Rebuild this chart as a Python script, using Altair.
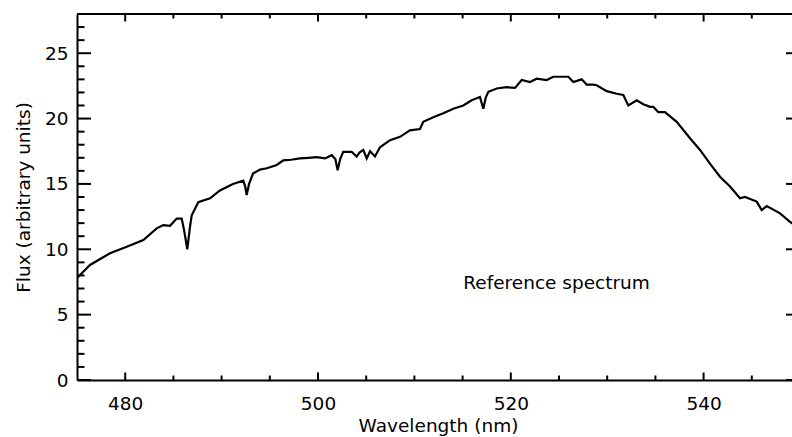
import altair as alt
import pandas as pd

# ---- data ----
wavelength = [475.0, 476.35, 478.42, 480.16, 481.88, 483.27, 483.95, 484.65, 485.34, 485.86,
              486.1, 486.44, 486.7, 486.9, 487.58, 488.8, 489.83, 491.18, 492.25, 492.45,
              492.6, 492.85, 493.26, 493.98, 494.68, 495.72, 496.4, 497.2, 498.13, 499.0,
              499.87, 500.73, 501.42, 501.8, 502.04, 502.3, 502.62, 503.5, 504.01, 504.3,
              504.7, 505.05, 505.4, 505.91, 506.43, 507.47, 508.51, 509.54, 510.58, 510.92,
              511.96, 513.0, 514.04, 515.07, 515.94, 516.8, 517.15, 517.4, 517.67, 518.54,
              519.58, 520.44, 521.13, 521.99, 522.69, 523.72, 524.41, 525.1, 525.97, 526.49,
              527.35, 527.87, 528.56, 528.91, 529.95, 530.99, 531.67, 532.19, 533.06, 533.75,
              534.44, 534.78, 535.3, 535.99, 537.21, 538.59, 539.63, 540.66, 541.7, 542.74,
              543.78, 544.29, 545.51, 546.03, 546.55, 547.93, 548.96, 550.0]
flux = [7.8, 8.8, 9.7, 10.2, 10.7, 11.6, 11.85, 11.8, 12.35, 12.35,
        11.5, 10.0, 11.6, 12.6, 13.6, 13.9, 14.5, 15.0, 15.25, 14.8,
        14.15, 15.0, 15.8, 16.1, 16.2, 16.45, 16.8, 16.85, 16.95, 17.0,
        17.05, 16.95, 17.2, 16.9, 16.05, 16.9, 17.45, 17.45, 17.1, 17.4,
        17.6, 16.95, 17.5, 17.1, 17.8, 18.35, 18.6, 19.1, 19.2, 19.75,
        20.1, 20.4, 20.75, 21.0, 21.4, 21.65, 20.75, 21.6, 22.05, 22.3,
        22.4, 22.35, 22.95, 22.8, 23.05, 22.95, 23.2, 23.2, 23.2, 22.8,
        23.0, 22.6, 22.6, 22.55, 22.1, 21.9, 21.8, 21.0, 21.4, 21.1,
        20.9, 20.9, 20.5, 20.5, 19.75, 18.5, 17.6, 16.55, 15.55, 14.8,
        13.9, 14.0, 13.65, 13.0, 13.3, 12.75, 12.1, 11.6]

x_major = [480, 500, 520, 540]
x_minor = [485, 490, 495, 505, 510, 515, 525, 530, 535, 545]
y_major = [0, 5, 10, 15, 20, 25]
y_minor = [1, 2, 3, 4, 6, 7, 8, 9, 11, 12, 13, 14, 16, 17, 18, 19,
           21, 22, 23, 24, 26, 27]

label_text = ["Reference spectrum"]
label_x = [515.07]
label_y = [7.0]

# ---- layout ----
FONT = "DejaVu Sans"
FS = 18.5
W, H = 715, 366
PXX = 9.64           # pixels per nm
PXY = H / 28.0       # pixels per flux unit
X0, X1 = 475.0, 550.0          # full frame (right edge lies just off-page)
XDOM = [X0, X0 + W / PXX]      # visible part
Y0, Y1 = 0.0, 28.0

# tick segments (IDL-style, pointing inward) built from the tick arrays
xt_maj = 7.5 / PXY
xt_min = 4.5 / PXY
yt_maj = 14 / PXX
yt_min = 7.5 / PXX
rows = []
for v in x_major:
    rows.append({"x": v, "x2": v, "y": Y0, "y2": Y0 + xt_maj})
    rows.append({"x": v, "x2": v, "y": Y1, "y2": Y1 - xt_maj})
for v in x_minor:
    rows.append({"x": v, "x2": v, "y": Y0, "y2": Y0 + xt_min})
    rows.append({"x": v, "x2": v, "y": Y1, "y2": Y1 - xt_min})
for v in y_major:
    rows.append({"x": X0, "x2": X0 + yt_maj, "y": v, "y2": v})
    rows.append({"x": X1, "x2": X1 - yt_maj, "y": v, "y2": v})
for v in y_minor:
    rows.append({"x": X0, "x2": X0 + yt_min, "y": v, "y2": v})
    rows.append({"x": X1, "x2": X1 - yt_min, "y": v, "y2": v})
ticks_df = pd.DataFrame(rows)

xscale = alt.Scale(domain=XDOM, nice=False, zero=False)
yscale = alt.Scale(domain=[Y0, Y1], nice=False, zero=False)

x_axis = alt.Axis(values=x_major, format="d", ticks=False, tickSize=0, labelPadding=14,
                  labelFont=FONT, labelFontSize=FS, labelColor="black", labelFlush=False,
                  domainColor="black", domainWidth=2, grid=False, zindex=0,
                  title="Wavelength (nm)", titleFont=FONT, titleFontSize=FS,
                  titleFontWeight="normal", titleColor="black",
                  titleX=361, titleY=45, titleBaseline="middle", titleAlign="center")
y_axis = alt.Axis(values=y_major, format="d", ticks=False, tickSize=0, labelPadding=9,
                  labelFont=FONT, labelFontSize=FS, labelColor="black",
                  domainColor="black", domainWidth=2, grid=False, zindex=0,
                  title="Flux (arbitrary units)", titleFont=FONT, titleFontSize=FS,
                  titleFontWeight="normal", titleColor="black",
                  titleX=-54, titleY=H / 2, titleAngle=-90,
                  titleBaseline="middle", titleAlign="center")


def X(field="x"):
    return alt.X(f"{field}:Q", scale=xscale, axis=x_axis)


def Y(field="y"):
    return alt.Y(f"{field}:Q", scale=yscale, axis=y_axis)


spec_df = pd.DataFrame({"x": wavelength, "y": flux})
line = alt.Chart(spec_df).mark_line(color="black", strokeWidth=2.2, clip=True).encode(
    x=X(), y=Y())

ticks = alt.Chart(ticks_df).mark_rule(color="black", strokeWidth=2, clip=True).encode(
    x=X(), x2="x2:Q", y=Y(), y2="y2:Q")

top_border = alt.Chart(pd.DataFrame({"x": [X0]})).mark_rule(color="black", strokeWidth=2).encode(
    x=alt.value(0), x2=alt.value(W), y=alt.value(0))

label_df = pd.DataFrame({"x": label_x, "y": label_y, "t": label_text})
label = alt.Chart(label_df).mark_text(align="left", baseline="alphabetic", font=FONT,
                                      fontSize=FS, color="black").encode(x=X(), y=Y(), text="t:N")

chart = alt.layer(top_border, ticks, line, label).properties(
    width=W, height=H,
    autosize=alt.AutoSizeParams(type="none"),
    padding={"left": 77, "top": 14, "right": 0, "bottom": 57},
    background="white",
).configure_view(stroke=None)

chart.save("out.html", embed_options={"renderer": "svg", "actions": False})
